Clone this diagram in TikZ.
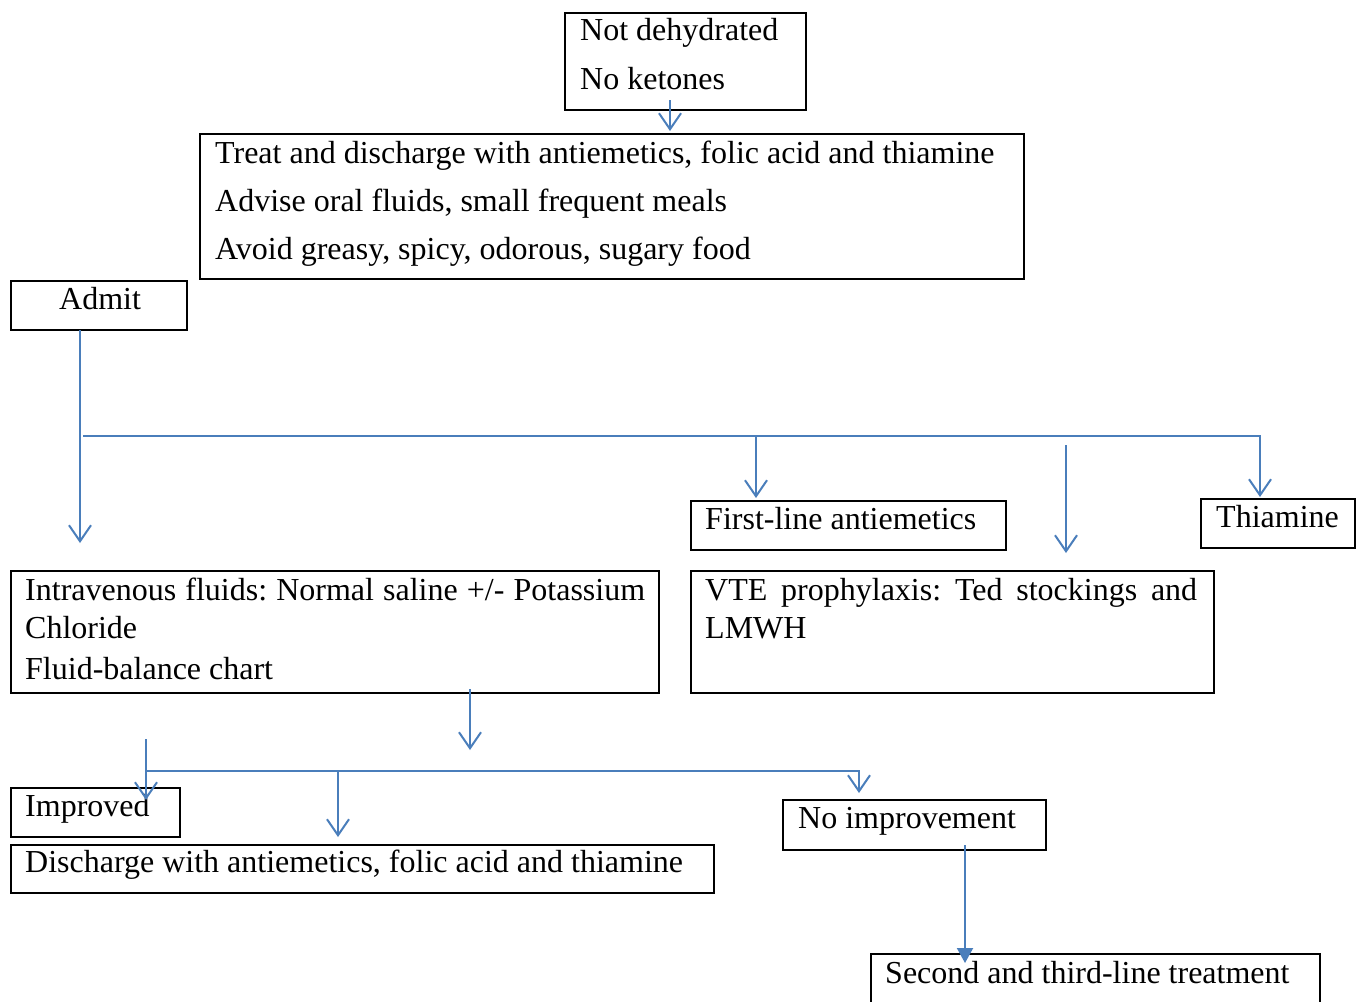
\documentclass[tikz,border=0pt]{standalone}
\usepackage{fontspec}
\setmainfont{Liberation Serif}
\usetikzlibrary{arrows.meta}
\definecolor{wblue}{RGB}{74,126,187}
\frenchspacing
\begin{document}
\begin{tikzpicture}[x=1pt,y=-1pt,
  box/.style={draw=black,line width=2pt,inner sep=0pt,outer sep=0pt,anchor=north west},
  txt/.style={anchor=base west,inner sep=0pt,font=\fontsize{32}{40}\selectfont\frenchspacing},
  bl/.style={draw=wblue,line width=2pt},
  arr/.style={bl,-{Straight Barb[length=16pt,width=22pt,line width=2pt]}},
  farr/.style={bl,-{Triangle[length=15pt,width=16pt]}}]
\useasboundingbox (0,0) rectangle (1362,1001);
\fill[white] (0,0) rectangle (1362,1001);
% boxes
\node[box,minimum width=241pt,minimum height=97pt] (nd) at (565,13) {};
\node[box,minimum width=824pt,minimum height=145pt] (treat) at (200,134) {};
\node[box,minimum width=176pt,minimum height=49pt] (admit) at (11,281) {};
\node[box,minimum width=315pt,minimum height=49pt] (first) at (691,501) {};
\node[box,minimum width=154pt,minimum height=49pt] (thia) at (1201,499) {};
\node[box,minimum width=648pt,minimum height=122pt] (iv) at (11,571) {};
\node[box,minimum width=523pt,minimum height=122pt] (vte) at (691,571) {};
\node[box,minimum width=169pt,minimum height=49pt] (impr) at (11,788) {};
\node[box,minimum width=703pt,minimum height=48pt] (disch) at (11,845) {};
\node[box,minimum width=263pt,minimum height=50pt] (noimp) at (783,800) {};
\node[box,minimum width=449pt,minimum height=70pt] (second) at (871,954) {};
% texts
\node[txt] (tnd1) at (580,40) {Not dehydrated};
\node[txt] (tnd2) at (580,89) {No ketones};
\node[txt] (ttr1) at (215,163) {Treat and discharge with antiemetics, folic acid and thiamine};
\node[txt] (ttr2) at (215,211) {Advise oral fluids, small frequent meals};
\node[txt] (ttr3) at (215,259) {Avoid greasy, spicy, odorous, sugary food};
\node[txt] (tadm) at (59,309) {Admit};
\node[txt] (tfir) at (705,529) {First-line antiemetics};
\node[txt] (tthi) at (1216,527) {Thiamine};
\node[txt] (tiv1) at (25,600) {\makebox[620pt][s]{Intravenous fluids: Normal saline +/- Potassium}};
\node[txt] (tiv2) at (25,638) {Chloride};
\node[txt] (tiv3) at (25,679) {Fluid-balance chart};
\node[txt] (tvt1) at (705,600) {\makebox[492pt][s]{VTE prophylaxis: Ted stockings and}};
\node[txt] (tvt2) at (705,638) {LMWH};
\node[txt] (timp) at (25,816) {Improved};
\node[txt] (tdis) at (25,872) {Discharge with antiemetics, folic acid and thiamine};
\node[txt] (tnoi) at (798,828) {No improvement};
\node[txt] (tsec) at (885,983) {Second and third-line treatment};
% connectors
\coordinate (a0) at (670,100);
\draw[arr] (a0) -- ([yshift=3pt]a0 |- treat.north);
\coordinate (c1) at (80,543);
\draw[arr] (admit.south -| c1) -- (c1);
\coordinate (h1) at (83,436);
\coordinate (h2) at (1260,436);
\coordinate (h3) at (756,436);
\draw[arr] (h1) -- (h2) -- ([yshift=2pt]h2 |- thia.north);
\draw[arr] (h3) -- ([yshift=3pt]h3 |- first.north);
\coordinate (v1) at (1066,445);
\coordinate (v2) at (1066,553);
\draw[arr] (v1) -- (v2);
\coordinate (w1) at (470,689);
\coordinate (w2) at (470,750);
\draw[arr] (w1) -- (w2);
\coordinate (p1) at (146,739);
\coordinate (p2) at (146,800);
\draw[arr] (p1) -- (p2);
\coordinate (b1) at (146,771);
\coordinate (b2) at (859,771);
\draw[arr] (b1) -- (b2) -- ([yshift=7pt]b2 |- noimp.north);
\coordinate (b3) at (338,771);
\draw[arr] (b3) -- ([yshift=8pt]b3 |- disch.north);
\coordinate (s1) at (965,963);
\draw[farr] ([yshift=5pt]noimp.south -| s1) -- (s1);
\end{tikzpicture}
\end{document}
